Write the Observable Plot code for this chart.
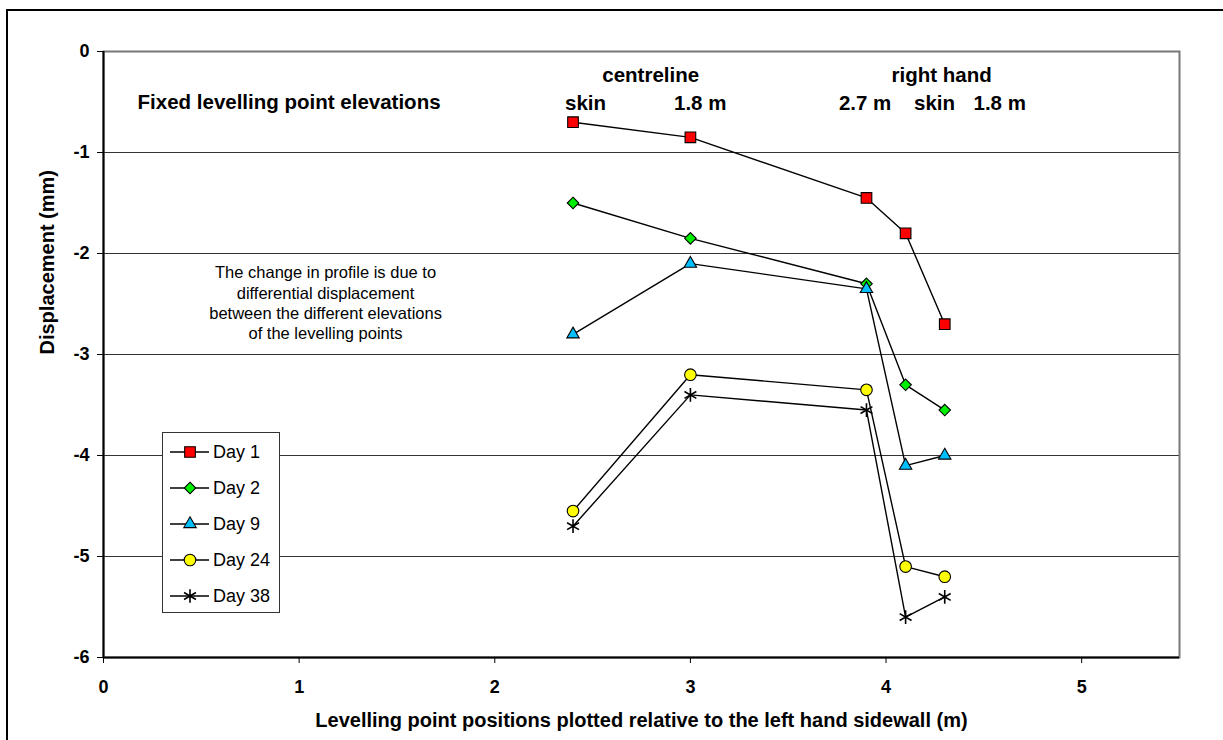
<!DOCTYPE html>
<html>
<head>
<meta charset="utf-8">
<script src="https://cdn.jsdelivr.net/npm/d3@7"></script>
<script src="https://cdn.jsdelivr.net/npm/@observablehq/plot@0.6"></script>
<style>
  html, body { margin: 0; padding: 0; background: #fff; overflow: hidden; }
  #wrap { position: relative; width: 1223px; height: 740px; overflow: hidden; font-family: "Liberation Sans", Arial, sans-serif; }
  #frame { position: absolute; left: 6px; top: 9px; width: 1240px; height: 760px; border: 2px solid #000; box-sizing: border-box; pointer-events: none; }
  #legend { position: absolute; left: 162px; top: 432px; width: 118px; height: 181px; background: #fff; border: 1.5px solid #333; box-sizing: border-box; }
</style>
</head>
<body>
<div id="wrap"><div id="frame"></div></div>
<script>
// ---- data ----
const positions = [2.4, 3.0, 3.9, 4.1, 4.3];
const seriesNames = ["Day 1", "Day 2", "Day 9", "Day 24", "Day 38"];
const day1  = [-0.70, -0.85, -1.45, -1.80, -2.70];
const day2  = [-1.50, -1.85, -2.30, -3.30, -3.55];
const day9  = [-2.80, -2.10, -2.35, -4.10, -4.00];
const day24 = [-4.55, -3.20, -3.35, -5.10, -5.20];
const day38 = [-4.70, -3.40, -3.55, -5.60, -5.40];
const xTicks = [0, 1, 2, 3, 4, 5];
const yTicks = [0, -1, -2, -3, -4, -5, -6];
const gridValues = [-1, -2, -3, -4, -5];
const xLabel = "Levelling point positions plotted relative to the left hand sidewall (m)";
const yLabel = "Displacement (mm)";
const titleNote = [{x: 0.174, y: -0.505, text: "Fixed levelling point elevations"}];
const headerTexts = [
  {x: 2.797, y: -0.238, text: "centreline"},
  {x: 2.464, y: -0.515, text: "skin"},
  {x: 3.050, y: -0.515, text: "1.8 m"},
  {x: 4.284, y: -0.238, text: "right hand"},
  {x: 3.893, y: -0.515, text: "2.7 m"},
  {x: 4.248, y: -0.515, text: "skin"},
  {x: 4.581, y: -0.515, text: "1.8 m"}
];
const noteLines = [
  {x: 1.135, y: -2.188, text: "The change in profile is due to"},
  {x: 1.135, y: -2.396, text: "differential displacement"},
  {x: 1.135, y: -2.594, text: "between the different elevations"},
  {x: 1.135, y: -2.792, text: "of the levelling points"}
];

const values = [day1, day2, day9, day24, day38];
const rows = [];
seriesNames.forEach((s, i) => positions.forEach((p, j) => rows.push({series: s, x: p, y: values[i][j]})));

// ---- styles ----
const styles = {
  "Day 1":  {symbol: "square",   fill: "#ff0000", r: 6},
  "Day 2":  {symbol: "diamond2", fill: "#00ee00", r: 5.2},
  "Day 9":  {symbol: "triangle", fill: "#00bfff", r: 4.6},
  "Day 24": {symbol: "circle",   fill: "#ffff00", r: 5.8},
  "Day 38": {symbol: "asterisk", fill: "none",    r: 6.5}
};

const font = "Liberation Sans, Arial, sans-serif";

const marks = [
  Plot.ruleY(gridValues, {stroke: "#333", strokeWidth: 1}),
  Plot.frame({stroke: "#777", strokeWidth: 2}),
  ...seriesNames.map(s => Plot.line(rows.filter(d => d.series === s), {x: "x", y: "y", stroke: "#000", strokeWidth: 1.4})),
  ...seriesNames.map(s => Plot.dot(rows.filter(d => d.series === s), {
    x: "x", y: "y", symbol: () => styles[s].symbol, r: styles[s].r,
    fill: styles[s].fill, stroke: "#000", strokeWidth: s === "Day 38" ? 1.6 : 1.1
  })),
  Plot.ruleX([0], {stroke: "#000", strokeWidth: 2}),
  Plot.ruleY([-6], {stroke: "#000", strokeWidth: 2}),
  Plot.axisX(xTicks, {tickSize: 6, tickPadding: 17, fontSize: 18, fontWeight: "bold", fill: "#000", stroke: "#000", strokeWidth: 1, label: null, tickFormat: d => `${d}`}),
  Plot.axisY(yTicks, {tickSize: 6, tickPadding: 8, fontSize: 18, fontWeight: "bold", fill: "#000", stroke: "#000", strokeWidth: 1, label: null, tickFormat: d => `${d}`}),
  Plot.text([yLabel], {frameAnchor: "left", dx: -56, rotate: -90, text: d => d, fontSize: 20, fontWeight: "bold", fill: "#000", lineAnchor: "middle"}),
  Plot.text([xLabel], {frameAnchor: "bottom", dy: 63, text: d => d, fontSize: 20, fontWeight: "bold", fill: "#000", lineAnchor: "middle"}),
  Plot.text(titleNote, {x: "x", y: "y", text: "text", textAnchor: "start", fontSize: 20.5, fontWeight: "bold", fill: "#000", lineAnchor: "middle"}),
  Plot.text(headerTexts, {x: "x", y: "y", text: "text", textAnchor: "middle", fontSize: 20.5, fontWeight: "bold", fill: "#000", lineAnchor: "middle"}),
  Plot.text(noteLines, {x: "x", y: "y", text: "text", fontSize: 16.5, fill: "#000", lineAnchor: "middle"})
];

const chart = Plot.plot({
  width: 1223,
  height: 740,
  marginLeft: 103,
  marginRight: 44,
  marginTop: 51,
  marginBottom: 83,
  style: {fontFamily: font, background: "transparent", color: "#000"},
  x: {domain: [0, 5.5], axis: null},
  y: {domain: [-6, 0], axis: null},
  marks
});
chart.style.position = "absolute";
chart.style.left = "0px";
chart.style.top = "0px";
const wrap = document.getElementById("wrap");
wrap.insertBefore(chart, wrap.firstChild);

// ---- legend ----
const legend = document.createElement("div");
legend.id = "legend";
wrap.appendChild(legend);
const lsvg = d3.select(legend).append("svg").attr("width", 116).attr("height", 178);
const symMap = {square: d3.symbolSquare, diamond2: d3.symbolDiamond2, triangle: d3.symbolTriangle, circle: d3.symbolCircle, asterisk: d3.symbolAsterisk};
seriesNames.forEach((s, i) => {
  const cy = 19 + i * 36;
  const g = lsvg.append("g").attr("transform", `translate(0,${cy})`);
  g.append("line").attr("x1", 7).attr("x2", 46).attr("y1", 0).attr("y2", 0).attr("stroke", "#000").attr("stroke-width", 1.4);
  const st = styles[s];
  g.append("path").attr("transform", "translate(27,0)")
    .attr("d", d3.symbol(symMap[st.symbol], Math.PI * st.r * st.r)())
    .attr("fill", st.fill).attr("stroke", "#000").attr("stroke-width", s === "Day 38" ? 1.6 : 1.1);
  g.append("text").attr("x", 50).attr("y", 0).attr("dy", "0.35em").attr("font-size", 18)
    .attr("font-family", font).attr("fill", "#000").text(s);
});
</script>
</body>
</html>
